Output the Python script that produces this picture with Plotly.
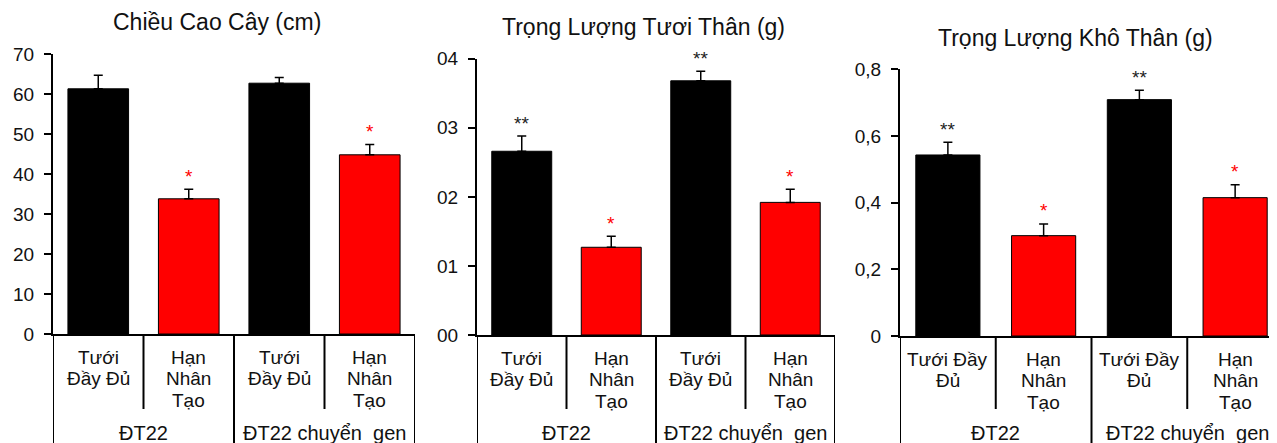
import plotly.graph_objects as go

W, H = 1277, 443

# ---------------- data ----------------
categories = [["Tưới", "Đầy Đủ"], ["Hạn", "Nhân", "Tạo"], ["Tưới", "Đầy Đủ"], ["Hạn", "Nhân", "Tạo"]]
categories_p3 = [["Tưới Đầy", "Đủ"], ["Hạn", "Nhân", "Tạo"], ["Tưới Đầy", "Đủ"], ["Hạn", "Nhân", "Tạo"]]
groups = ["ĐT22", "ĐT22 chuyển  gen"]
bar_colors = ["#000000", "#FF0000", "#000000", "#FF0000"]

height_vals = [61.3, 33.8, 62.7, 44.8]
height_errs = [3.4, 2.4, 1.4, 2.6]
height_stars = ["", "*", "", "*"]

fresh_vals = [0.266, 0.127, 0.368, 0.192]
fresh_errs = [0.022, 0.016, 0.014, 0.019]
fresh_stars = ["**", "*", "**", "*"]

dry_vals = [0.543, 0.301, 0.709, 0.415]
dry_errs = [0.038, 0.035, 0.028, 0.039]
dry_stars = ["**", "*", "**", "*"]

titles = ["Chiều Cao Cây (cm)", "Trọng Lượng Tươi Thân (g)", "Trọng Lượng Khô Thân (g)"]
yticks = [[0, 10, 20, 30, 40, 50, 60, 70],
          [0, 0.1, 0.2, 0.3, 0.4],
          [0, 0.2, 0.4, 0.6, 0.8]]
yticktext = [["0", "10", "20", "30", "40", "50", "60", "70"],
             ["00", "01", "02", "03", "04"],
             ["0", "0,2", "0,4", "0,6", "0,8"]]

# ---------------- layout geometry (screen pixels -> paper fractions) ----------------
OX, OY = 8, 8          # page offset of the figure
ML, MR, MT, MB = 0, 0, 20, 20
PW, PH = W - ML - MR, H - MT - MB


def px_x(p):
    return (p - OX - ML) / PW


def px_y(p):
    return 1 - (p - OY - MT) / PH


def clamp(v):
    return max(0.0, min(1.0, v))


panels = [
    dict(x0=53, x1=415, y0=334, y1=54, yr=[0, 70], xr=[-0.5, 3.5], tx=217, ty=22,
         vals=height_vals, errs=height_errs, stars=height_stars, cats=categories),
    dict(x0=477, x1=835, y0=335, y1=58.7, yr=[0, 0.4], xr=[-0.5, 3.5], tx=643, ty=27,
         vals=fresh_vals, errs=fresh_errs, stars=fresh_stars, cats=categories),
    dict(x0=900, x1=1283, y0=336, y1=69.3, yr=[0, 0.8], xr=[-0.5, 3.5], tx=1075, ty=38,
         vals=dry_vals, errs=dry_errs, stars=dry_stars, cats=categories_p3),
]

FONT = "Liberation Sans, Arial, sans-serif"
TXT = "#111111"
fig = go.Figure()
annotations = []
shapes = []

for i, p in enumerate(panels):
    sfx = "" if i == 0 else str(i + 1)
    xa, ya = "x" + sfx, "y" + sfx
    fig.add_trace(go.Bar(
        x=[0, 1, 2, 3], y=p["vals"], width=0.67,
        marker=dict(color=bar_colors, line=dict(color="#000000", width=1)),
        error_y=dict(type="data", array=p["errs"], arrayminus=[0] * 4, symmetric=False,
                     color="#000000", thickness=1.5, width=4.5),
        xaxis=xa, yaxis=ya, showlegend=False, hoverinfo="skip"))

    fig.layout["xaxis" + sfx] = dict(
        domain=[clamp(px_x(p["x0"])), clamp(px_x(p["x1"]))], range=p["xr"], anchor=ya,
        showline=True, linecolor="#000000", linewidth=2, showticklabels=False,
        ticks="", showgrid=False, zeroline=False, fixedrange=True)
    fig.layout["yaxis" + sfx] = dict(
        domain=[clamp(px_y(p["y0"])), clamp(px_y(p["y1"]))], range=p["yr"], anchor=xa,
        showline=True, linecolor="#000000", linewidth=2, ticks="outside", ticklen=7,
        tickwidth=2, tickcolor="#000000", tickvals=yticks[i], ticktext=yticktext[i],
        ticklabelstandoff=6,
        tickfont=dict(family=FONT, size=19, color=TXT),
        showgrid=False, zeroline=False, fixedrange=True)

    # title
    annotations.append(dict(text=titles[i], xref="paper", yref="paper",
                            x=px_x(p["tx"]), y=px_y(p["ty"]), xanchor="center", yanchor="middle",
                            showarrow=False, font=dict(family=FONT, size=23, color=TXT)))

    # stars
    for k in range(4):
        if p["stars"][k]:
            annotations.append(dict(text=p["stars"][k], xref=xa, yref=ya,
                                    x=k, y=p["vals"][k] + p["errs"][k], yshift=13,
                                    xanchor="center", yanchor="middle", showarrow=False,
                                    font=dict(family=FONT, size=19,
                                              color="#FF0000" if bar_colors[k] == "#FF0000" else "#222222")))

    # category labels (one annotation per text line)
    for k in range(4):
        for j, line in enumerate(p["cats"][k]):
            annotations.append(dict(text=line, xref=xa, yref="paper",
                                    x=k, y=px_y(p["y0"] + 23 + 21.5 * j),
                                    xanchor="center", yanchor="middle",
                                    showarrow=False, font=dict(family=FONT, size=19, color=TXT)))
    # group labels
    for g in range(2):
        annotations.append(dict(text=groups[g], xref=xa, yref="paper",
                                x=0.5 + 2 * g, y=px_y(433), xanchor="center", yanchor="middle",
                                showarrow=False, font=dict(family=FONT, size=20, color=TXT)))

    # divider lines below the axis
    for xb, yb in [(-0.5, H + 10), (0.5, 409), (1.5, H + 10), (2.5, 409), (3.5, H + 10)]:
        shapes.append(dict(type="line", xref=xa, yref="paper",
                           x0=xb, x1=xb, y0=px_y(p["y0"]), y1=px_y(yb),
                           line=dict(color="#000000", width=2)))

fig.update_layout(
    width=W, height=H, margin=dict(l=ML, r=MR, t=MT, b=MB, autoexpand=False),
    paper_bgcolor="#FFFFFF", plot_bgcolor="#FFFFFF",
    annotations=annotations, shapes=shapes, bargap=0.33,
    font=dict(family=FONT))

fig.write_html("out.html")
